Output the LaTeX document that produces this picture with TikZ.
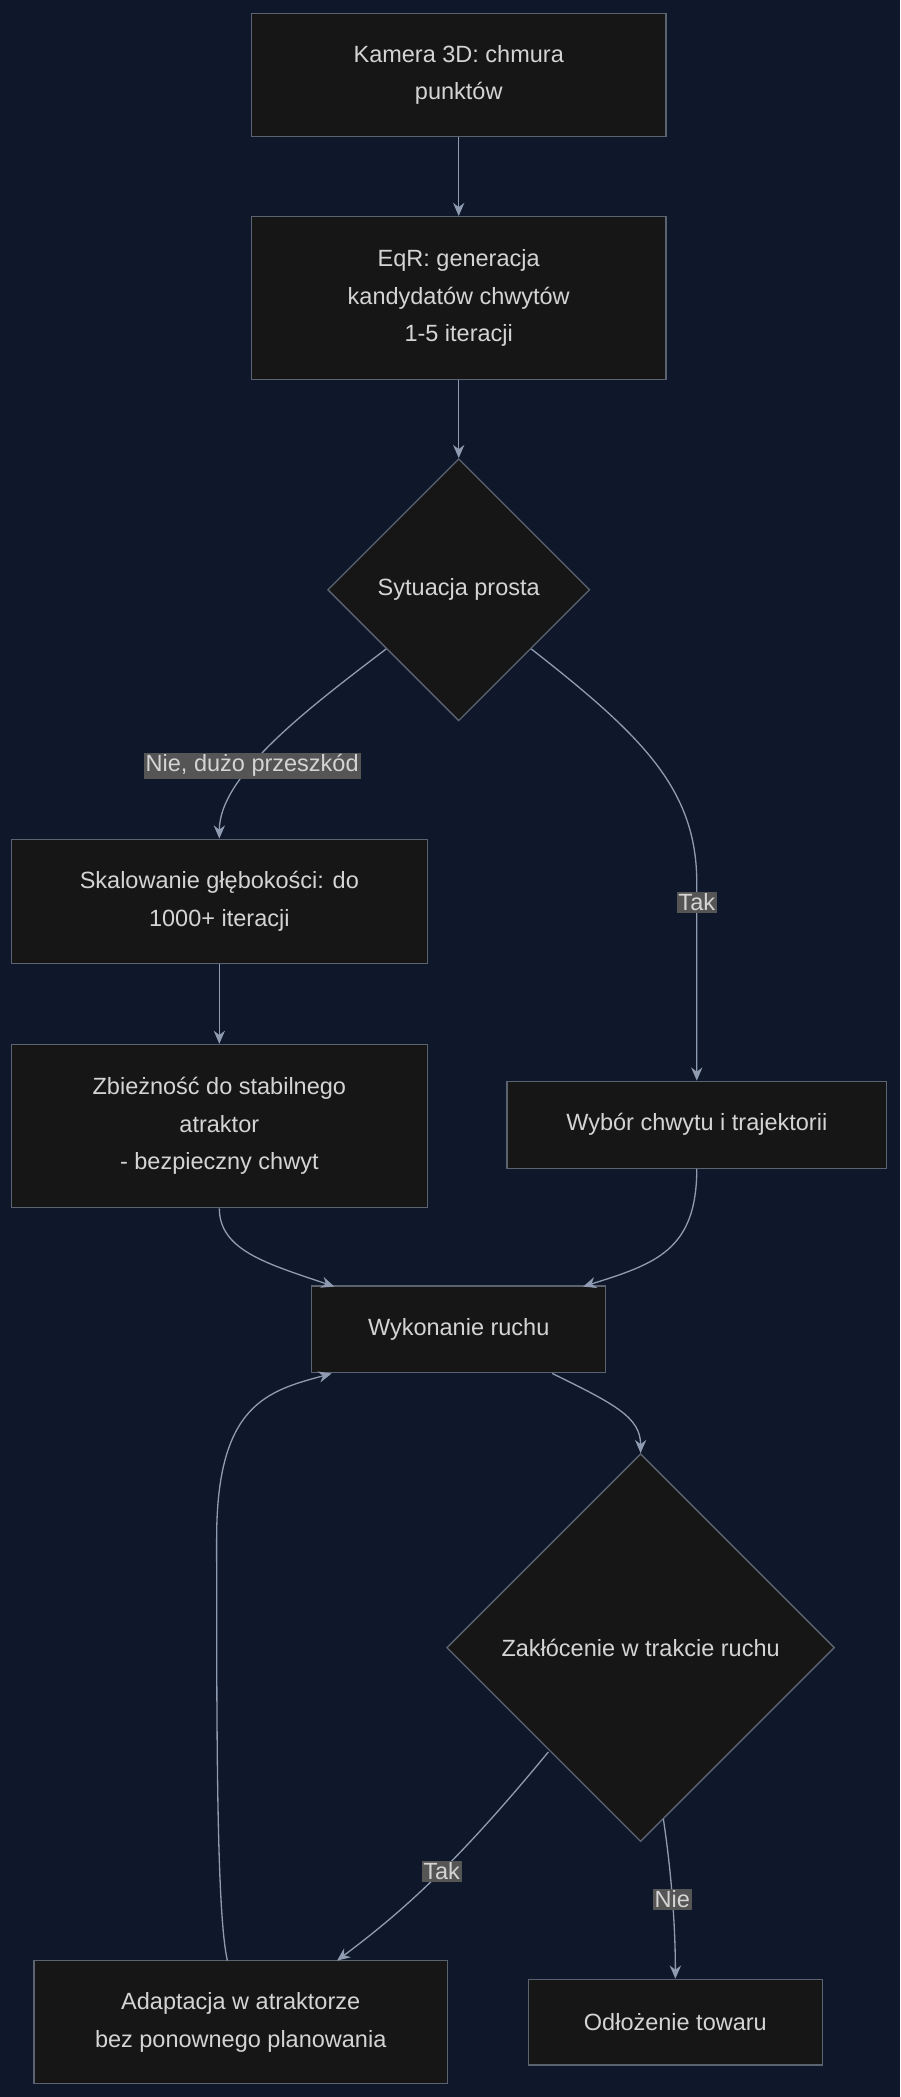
\documentclass[tikz,border=0pt]{standalone}
\usepackage{fontspec}
\setmainfont{Liberation Sans}
\usetikzlibrary{shapes.geometric,arrows.meta}
\definecolor{bgnavy}{HTML}{0F172A}
\definecolor{boxfill}{HTML}{161616}
\definecolor{boxline}{HTML}{5C6370}
\definecolor{txt}{HTML}{D4D4D4}
\definecolor{edge}{HTML}{8E9BB0}
\definecolor{lblfill}{HTML}{555555}
\tikzset{
  box/.style={draw=boxline, fill=boxfill, line width=1.4pt, text=txt, align=center, inner sep=0pt},
  choice/.style={diamond, draw=boxline, fill=boxfill, line width=1.4pt, text=txt, align=center, inner sep=0pt},
  flow/.style={draw=edge, line width=1.4pt, -{Stealth[length=14pt,width=12pt]}},
  lbl/.style={fill=lblfill, text=txt, inner sep=2pt}
}
\begin{document}
\begin{tikzpicture}[x=0.05cm, y=-0.05cm, font=\fontsize{25}{40}\selectfont]
\fill[bgnavy] (0,0) rectangle (673,1568);
\useasboundingbox (0,0) rectangle (673,1568);

\node[box, minimum width=15.5cm, minimum height=4.6cm] (cam) at (343,56) {Kamera 3D: chmura\\punktów};
\node[box, minimum width=15.5cm, minimum height=6.1cm] (eqr) at (343,223) {EqR: generacja\\kandydatów chwytów\\1-5 iteracji};
\node[choice, minimum size=9.8cm] (simple) at (343,441) {Sytuacja prosta};
\node[box, minimum width=15.55cm, minimum height=4.65cm] (scale) at (164,674) {Skalowanie głębokości: do\\1000+ iteracji};
\node[box, minimum width=15.55cm, minimum height=6.1cm] (conv) at (164,842) {Zbieżność do stabilnego\\atraktor\\- bezpieczny chwyt};
\node[box, minimum width=14.2cm, minimum height=3.25cm] (pick) at (521,841) {Wybór chwytu i trajektorii};
\node[box, minimum width=11cm, minimum height=3.25cm] (move) at (343,994) {Wykonanie ruchu};
\node[choice, minimum size=14.5cm] (dist) at (479,1232) {Zakłócenie w trakcie ruchu};
\node[box, minimum width=15.45cm, minimum height=4.6cm] (adapt) at (180,1512) {Adaptacja w atraktorze\\bez ponownego planowania};
\node[box, minimum width=11cm, minimum height=3.2cm] (drop) at (505,1512) {Odłożenie towaru};

\draw[flow] (cam) -- (eqr);
\draw[flow] (eqr) -- (simple);
\draw[flow] (simple.south west) ++(-5,-5) .. controls (230,530) and (164,580) .. node[lbl, pos=0.62] {Nie, dużo przeszkód} (scale.north);
\draw[flow] (simple.south east) ++(5,-5) .. controls (480,550) and (521,590) .. (521,660) -- node[lbl, pos=0.1] {Tak} (pick.north);
\draw[flow] (scale) -- (conv);
\draw[flow] (conv.south) .. controls (164,935) and (200,945) .. (250,962);
\draw[flow] (pick.south) .. controls (521,935) and (490,945) .. (436,962);
\draw[flow] (413,1027) .. controls (460,1050) and (479,1060) .. (dist.north);
\draw[flow] (410,1310) .. controls (340,1395) and (300,1430) .. node[lbl, pos=0.45] {Tak} (252,1466);
\draw[flow] (496,1360) .. controls (502,1400) and (505,1440) .. node[lbl, pos=0.5] {Nie} (drop.north);
\draw[flow] (170,1466) .. controls (162,1430) and (162,1300) .. (162,1150) .. controls (162,1050) and (200,1040) .. (248,1027);
\end{tikzpicture}
\end{document}
